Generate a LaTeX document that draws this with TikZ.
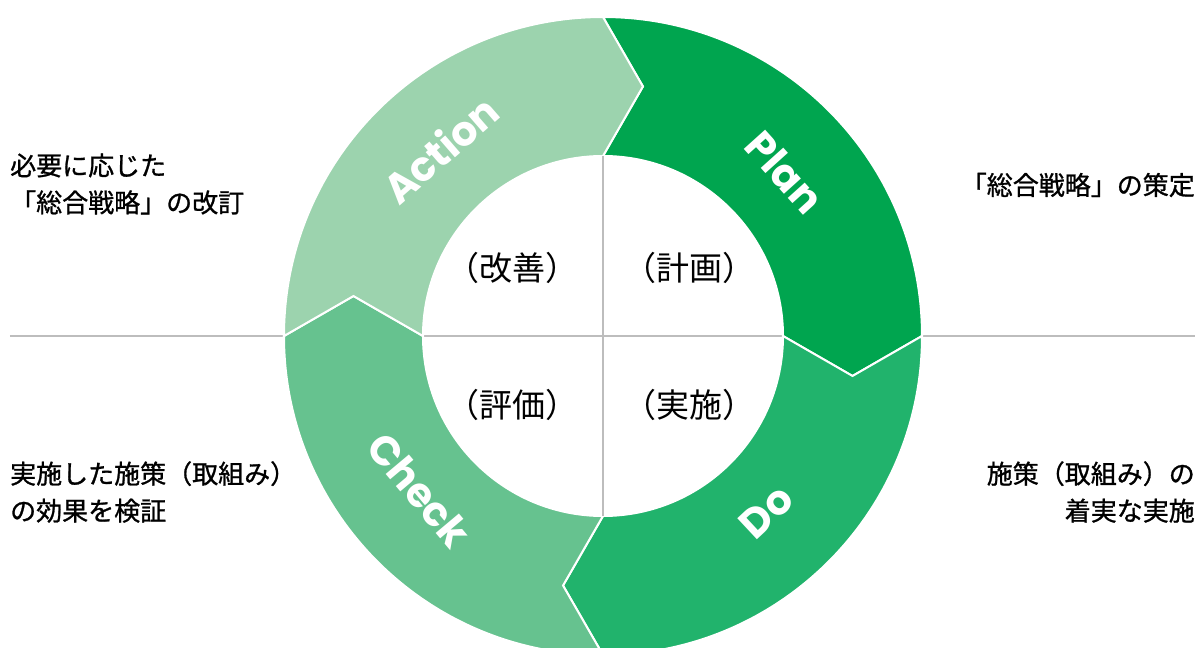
\documentclass[tikz,border=0pt]{standalone}
\usepackage{fontspec}
\setmainfont{Noto Sans CJK JP}
\newfontfamily\notefont[FakeBold=1]{Noto Sans CJK JP}
\newfontfamily\pdcafont{Poppins}

\definecolor{plangreen}{HTML}{00A54F}
\definecolor{dogreen}{HTML}{21B36C}
\definecolor{checkgreen}{HTML}{66C28F}
\definecolor{actiongreen}{HTML}{9CD3AE}
\definecolor{rulegray}{HTML}{BDBDBD}

\begin{document}
\begin{tikzpicture}[x=1pt,y=1pt]

\tikzstyle{segment}=[draw=white,line width=2pt,line join=miter];
\tikzstyle{divider}=[rulegray,line width=1.2pt];
\tikzstyle{cyclelabel}=[text=white,inner sep=0,font=\pdcafont\bfseries\fontsize{41}{41}\selectfont];
\tikzstyle{phase}=[inner sep=0,font=\fontsize{33}{38}\selectfont];
\tikzstyle{note}=[inner sep=0,font=\notefont\fontsize{26}{37}\selectfont];

\clip (-603,-312) rectangle (597,336);

% horizontal divider behind the ring
\coordinate (far west) at (-593,0);
\coordinate (far east) at (592,0);
\draw[divider] (far west) -- (far east);

% the four arrows of the ring
\path[segment,fill=plangreen] (90:319) arc[start angle=90,end angle=0,radius=319]
  -- (-9.1:252.7) -- (0:180) arc[start angle=0,end angle=90,radius=180] -- (80.9:252.7) -- cycle;
\path[segment,fill=dogreen] (0:319) arc[start angle=0,end angle=-90,radius=319]
  -- (-99.1:252.7) -- (-90:180) arc[start angle=-90,end angle=0,radius=180] -- (-9.1:252.7) -- cycle;
\path[segment,fill=checkgreen] (-90:319) arc[start angle=-90,end angle=-180,radius=319]
  -- (170.9:252.7) -- (180:180) arc[start angle=180,end angle=270,radius=180] -- (-99.1:252.7) -- cycle;
\path[segment,fill=actiongreen] (180:319) arc[start angle=180,end angle=90,radius=319]
  -- (80.9:252.7) -- (90:180) arc[start angle=90,end angle=180,radius=180] -- (170.9:252.7) -- cycle;

% vertical divider in the hole
\coordinate (hole top) at (0,180);
\coordinate (hole bottom) at (0,-180);
\draw[divider] (hole top) -- (hole bottom);

\node[cyclelabel,rotate=-48] (plan) at (42:245) {Plan};
\node[cyclelabel,rotate=43] (do) at (-47:240) {Do};
\node[cyclelabel,rotate=-50] (check) at (220:240) {Check};
\node[cyclelabel,rotate=41] (action) at (131:248) {Action};

\node[phase] (kaizen) at (-90,68) {（改善）};
\node[phase] (keikaku) at (87,68) {（計画）};
\node[phase] (hyoka) at (-90,-69) {（評価）};
\node[phase] (jisshi) at (87,-69) {（実施）};

\node[note,anchor=west,align=left] (action note) at (-593,152) {必要に応じた\\「総合戦略」の改訂};
\node[note,anchor=east] (plan note) at (592,151) {「総合戦略」の策定};
\node[note,anchor=west,align=left] (check note) at (-593,-156) {実施した施策（取組み）\\の効果を検証};
\node[note,anchor=east,align=right] (do note) at (592,-156) {施策（取組み）の\\着実な実施};

\end{tikzpicture}
\end{document}
